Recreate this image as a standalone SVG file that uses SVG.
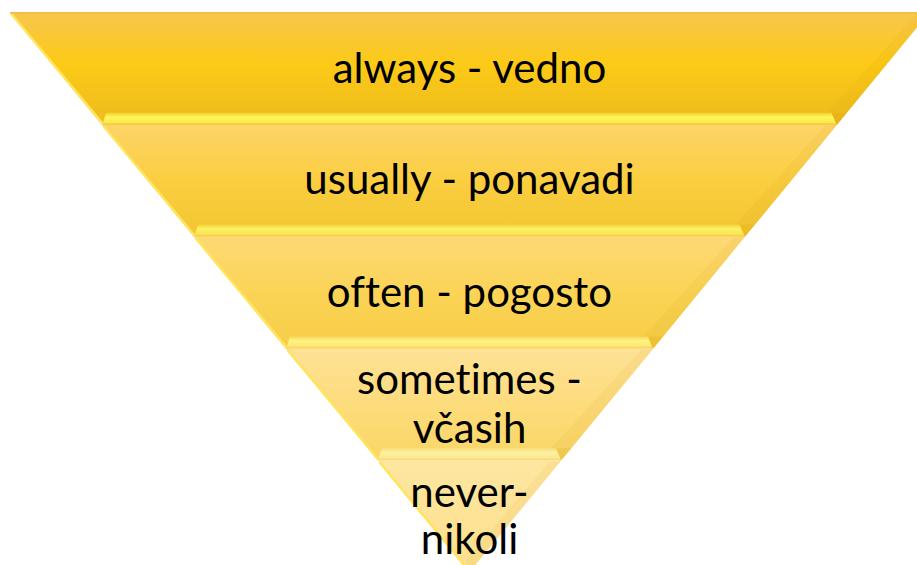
<svg xmlns="http://www.w3.org/2000/svg" width="917" height="565" viewBox="0 0 917 565">
  <defs>
    <linearGradient id="g1" x1="0" y1="0" x2="0" y2="1">
      <stop offset="0" stop-color="#F8C64C"/>
      <stop offset="0.45" stop-color="#FCCA16"/>
      <stop offset="1" stop-color="#EDBB1E"/>
    </linearGradient>
    <linearGradient id="g2" x1="0" y1="0" x2="0" y2="1">
      <stop offset="0" stop-color="#FDD468"/>
      <stop offset="0.5" stop-color="#FBCE40"/>
      <stop offset="1" stop-color="#F2C531"/>
    </linearGradient>
    <linearGradient id="g3" x1="0" y1="0" x2="0" y2="1">
      <stop offset="0" stop-color="#FDD975"/>
      <stop offset="0.5" stop-color="#FBD456"/>
      <stop offset="1" stop-color="#F6CD46"/>
    </linearGradient>
    <linearGradient id="g4" x1="0" y1="0" x2="0" y2="1">
      <stop offset="0" stop-color="#FEE196"/>
      <stop offset="0.5" stop-color="#FDDC7C"/>
      <stop offset="1" stop-color="#F9D665"/>
    </linearGradient>
    <linearGradient id="g5" x1="0" y1="0" x2="0" y2="1">
      <stop offset="0" stop-color="#FEE6A0"/>
      <stop offset="1" stop-color="#FDE08E"/>
    </linearGradient>
    <linearGradient id="s1" x1="0" y1="0" x2="0" y2="1">
      <stop offset="0" stop-color="#F2CF2A"/>
      <stop offset="0.35" stop-color="#FFF55C"/>
      <stop offset="0.8" stop-color="#FBEA4C"/>
      <stop offset="1" stop-color="#F2BC3A"/>
    </linearGradient>
    <linearGradient id="s2" x1="0" y1="0" x2="0" y2="1">
      <stop offset="0" stop-color="#F3D23C"/>
      <stop offset="0.35" stop-color="#FEF062"/>
      <stop offset="0.8" stop-color="#FBE654"/>
      <stop offset="1" stop-color="#F2C03E"/>
    </linearGradient>
    <linearGradient id="s3" x1="0" y1="0" x2="0" y2="1">
      <stop offset="0" stop-color="#F6D85A"/>
      <stop offset="0.35" stop-color="#FEF184"/>
      <stop offset="0.8" stop-color="#FCEA74"/>
      <stop offset="1" stop-color="#F4CA56"/>
    </linearGradient>
    <linearGradient id="s4" x1="0" y1="0" x2="0" y2="1">
      <stop offset="0" stop-color="#F8DE7C"/>
      <stop offset="0.35" stop-color="#FDF0A2"/>
      <stop offset="0.8" stop-color="#FCEA92"/>
      <stop offset="1" stop-color="#F5D070"/>
    </linearGradient>
    <style>
      .lbl { font-family: "Lato", "Liberation Sans", sans-serif; font-size: 42px; fill: #000; text-anchor: middle; font-variant-ligatures: none; font-feature-settings: "liga" 0, "clig" 0; }
      .hl { stroke: #FFE45C; stroke-width: 2.5; fill: none; }
      .rb { fill: #C89000; opacity: 0.07; }
      .cr { fill: #D9A300; opacity: 0.18; }
    </style>
  </defs>

  <g id="band-always">
    <polygon points="10,13 929,13 837.1,124.8 101.9,124.8" fill="url(#g1)"/>
    <line x1="10" y1="13" x2="929" y2="13" stroke="#F4BC48" stroke-width="2"/>
    <polygon class="rb" points="929,13 837.1,124.8 827,112.8 917,14"/>
    <line class="hl" x1="11.5" y1="14" x2="103" y2="124"/>
    <polygon class="cr" points="836.5,124.8 846.9,112.8 831.5,112.8"/>
    <polygon points="102.5,124.8 836.5,124.8 831.5,112.8 106,112.8" fill="url(#s1)"/>
    <text class="lbl" x="469.5" y="83">always - vedno</text>
  </g>

  <g id="band-usually">
    <polygon points="101.9,124.8 837.1,124.8 745.2,236.6 193.8,236.6" fill="url(#g2)"/>
    <polygon class="rb" points="837.1,124.8 745.2,236.6 735,224.6 825,126"/>
    <line class="hl" x1="103.5" y1="126" x2="195" y2="236"/>
    <polygon class="cr" points="744.6,236.6 755,224.6 739.6,224.6"/>
    <polygon points="194.4,236.6 744.6,236.6 739.6,224.6 198,224.6" fill="url(#s2)"/>
    <text class="lbl" x="469.5" y="194">usually - ponavadi</text>
  </g>

  <g id="band-often">
    <polygon points="193.8,236.6 745.2,236.6 653.4,348.4 285.6,348.4" fill="url(#g3)"/>
    <polygon class="rb" points="745.2,236.6 653.4,348.4 643,336.4 733,238"/>
    <line class="hl" x1="195.5" y1="238" x2="287" y2="348"/>
    <polygon class="cr" points="652.8,348.4 663.2,336.4 647.8,336.4"/>
    <polygon points="286.2,348.4 652.8,348.4 647.8,336.4 290,336.4" fill="url(#s3)"/>
    <text class="lbl" x="469.5" y="307">often - pogosto</text>
  </g>

  <g id="band-sometimes">
    <polygon points="285.6,348.4 653.4,348.4 561.5,460.2 377.5,460.2" fill="url(#g4)"/>
    <polygon class="rb" points="653.4,348.4 561.5,460.2 551,448.2 641,350"/>
    <line class="hl" x1="287.5" y1="350" x2="379" y2="460"/>
    <polygon class="cr" points="561,460.2 571.4,448.2 556,448.2"/>
    <polygon points="378,460.2 561,460.2 556,448.2 382,448.2" fill="url(#s4)"/>
    <text class="lbl" x="469.5" y="394">sometimes -</text>
    <text class="lbl" x="469.5" y="443">včasih</text>
  </g>

  <g id="band-never">
    <polygon points="377.5,460.2 561.5,460.2 469.5,572" fill="url(#g5)"/>
    <polygon class="rb" points="561.5,460.2 469.5,572 466,560 549,462"/>
    <line class="hl" x1="379.5" y1="462" x2="469" y2="571"/>
    <text class="lbl" x="469.5" y="507">never-</text>
    <text class="lbl" x="469.5" y="554">nikoli</text>
  </g>

  <g id="connectors"/>
</svg>
